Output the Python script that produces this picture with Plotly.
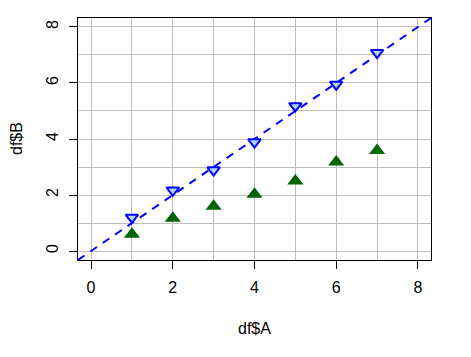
import plotly.graph_objects as go

A = [1, 2, 3, 4, 5, 6, 7]
B_blue = [1.2, 2.17, 2.89, 3.89, 5.18, 5.95, 7.08]
B_green = [0.6, 1.17, 1.6, 2.03, 2.5, 3.18, 3.59]
ab_line = [-0.32, 8.32]
tick_vals = [0, 2, 4, 6, 8]
tick_text = ["0", "2", "4", "6", "8"]

FONT = "Liberation Sans, Arial, sans-serif"

fig = go.Figure()
fig.add_trace(go.Scatter(
    x=ab_line, y=ab_line, mode="lines",
    line=dict(color="#0000ff", width=2, dash="8px,7px"),
    showlegend=False, hoverinfo="skip"))
fig.add_trace(go.Scatter(
    x=A, y=B_green, mode="markers",
    marker=dict(symbol="triangle-up", size=14, color="#006400",
                line=dict(width=0)),
    showlegend=False))
fig.add_trace(go.Scatter(
    x=A, y=B_blue, mode="markers",
    marker=dict(symbol="triangle-down", size=11, color="#add8e6",
                line=dict(width=2, color="#0000ff")),
    showlegend=False))

axis_common = dict(
    showline=True, linecolor="black", linewidth=1, mirror=True,
    ticks="outside", ticklen=8, tickcolor="black", tickwidth=1,
    tickvals=tick_vals, ticktext=tick_text,
    showgrid=False, zeroline=False,
    tickfont=dict(family=FONT, size=16, color="black"),
    minor=dict(dtick=1, tick0=0, showgrid=True, gridcolor="#bebebe",
               gridwidth=1, ticks=""),
)

fig.update_layout(
    width=471, height=357,
    margin=dict(l=78, r=40, t=18, b=97),
    paper_bgcolor="white", plot_bgcolor="white",
    xaxis=dict(range=[-0.32, 8.32], ticklabelstandoff=5, **axis_common),
    yaxis=dict(range=[-0.32, 8.32], tickangle=-90, ticklabelstandoff=5,
               **axis_common),
    annotations=[
        dict(text="df$A", xref="paper", yref="paper", x=0.5, y=0,
             xanchor="center", yanchor="middle", yshift=-68, showarrow=False,
             font=dict(family=FONT, size=16, color="black")),
        dict(text="df$B", xref="paper", yref="paper", x=0, y=0.5,
             xanchor="center", yanchor="middle", xshift=-62, showarrow=False,
             textangle=-90,
             font=dict(family=FONT, size=16, color="black")),
    ],
)

fig.write_html("out.html")
